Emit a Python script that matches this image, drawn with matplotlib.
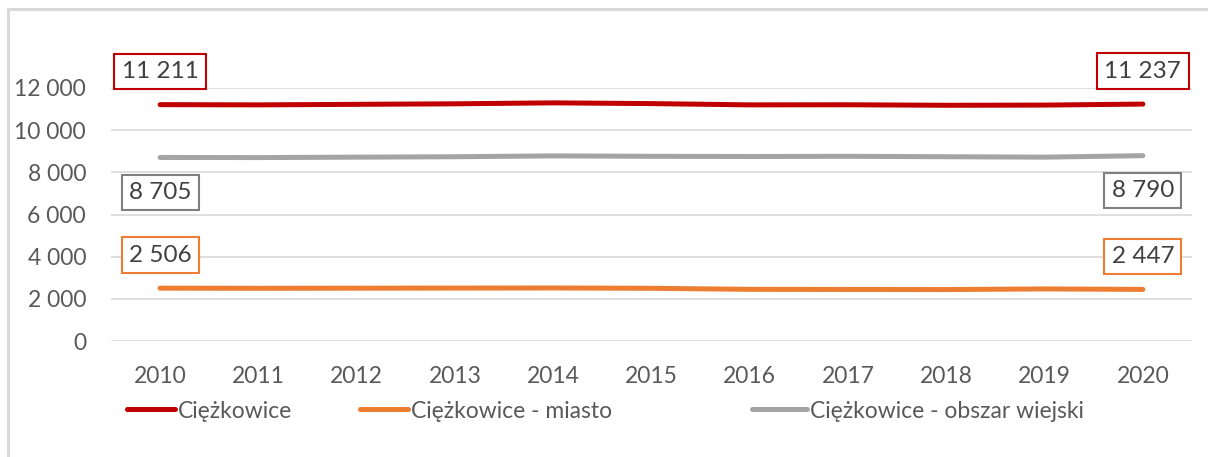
import matplotlib
matplotlib.use("Agg")
import matplotlib.pyplot as plt
from matplotlib.lines import Line2D

plt.rcParams['font.family'] = ['Lato', 'DejaVu Sans']

years = ['2010', '2011', '2012', '2013', '2014', '2015', '2016', '2017', '2018', '2019', '2020']
total = [11211, 11200, 11225, 11250, 11295, 11260, 11200, 11205, 11180, 11190, 11237]
town = [2506, 2500, 2505, 2510, 2515, 2500, 2450, 2445, 2440, 2470, 2447]
rural = [8705, 8700, 8720, 8740, 8780, 8760, 8750, 8760, 8740, 8720, 8790]
series_names = ['Ciężkowice', 'Ciężkowice - miasto', 'Ciężkowice - obszar wiejski']
yticks = [0, 2000, 4000, 6000, 8000, 10000, 12000]

colors = ['#C00000', '#ED7D31', '#A5A5A5']
label_edge = ['#C00000', '#ED7D31', '#7F7F7F']
label_offsets = [33, 33, -35]  # pixels, for (total, town, rural)

W, H = 1208, 457
fig = plt.figure(figsize=(W / 100, H / 100), dpi=100)
ax = fig.add_axes([111 / W, (H - 341) / H, (1192 - 111) / W, (341 - 88) / H])

x = list(range(len(years)))
data = [total, town, rural]
handles = []
for vals, c in zip(data, colors):
    ln, = ax.plot(x, vals, color=c, lw=3.6, solid_capstyle='round', zorder=3)
    handles.append(ln)

ax.set_xlim(-0.5, len(years) - 0.5)
ax.set_ylim(0, 12000)
ax.set_yticks(yticks)
ax.set_yticklabels([f"{v:,}".replace(',', ' ') for v in yticks])
ax.set_xticks(x)
ax.set_xticklabels(years)
ax.grid(axis='y', color='#D9D9D9', lw=1.2)
ax.set_axisbelow(True)
for s in ax.spines.values():
    s.set_visible(False)
ax.tick_params(axis='both', length=0, labelsize=16.5, colors='#595959')
ax.tick_params(axis='y', pad=18)
ax.tick_params(axis='x', pad=18)

# data labels at first and last points
for vals, ec, off in zip(data, label_edge, label_offsets):
    for i in (0, len(vals) - 1):
        ax.annotate(f"{vals[i]:,}".replace(',', ' '), xy=(x[i], vals[i]),
                    xytext=(0, off), textcoords='offset pixels',
                    ha='center', va='center', fontsize=17.5, color='#404040',
                    bbox=dict(boxstyle='square,pad=0.3', fc='white', ec=ec, lw=1.5),
                    annotation_clip=False, zorder=5)

# legend entries
leg_x = [127, 360, 752]
leg_len = [2.1, 2.1, 2.4]
for h, name, lx, hl in zip(handles, series_names, leg_x, leg_len):
    lg = fig.legend([Line2D([0], [0], color=h.get_color(), lw=3.6, solid_capstyle='round')],
                    [name], loc='center left', bbox_to_anchor=(lx / W, 1 - 411 / H),
                    frameon=False, borderpad=0, borderaxespad=0, handlelength=hl,
                    handletextpad=0.12, fontsize=16.5)
    for t in lg.get_texts():
        t.set_color('#595959')

# outer frame (top and left)
fig.add_artist(Line2D([8 / W, 1], [1 - 9 / H, 1 - 9 / H], transform=fig.transFigure,
                      color='#D9D9D9', lw=2.2))
fig.add_artist(Line2D([8 / W, 8 / W], [0, 1 - 9 / H], transform=fig.transFigure,
                      color='#D9D9D9', lw=2.2))

fig.savefig('out.png', dpi=100)
